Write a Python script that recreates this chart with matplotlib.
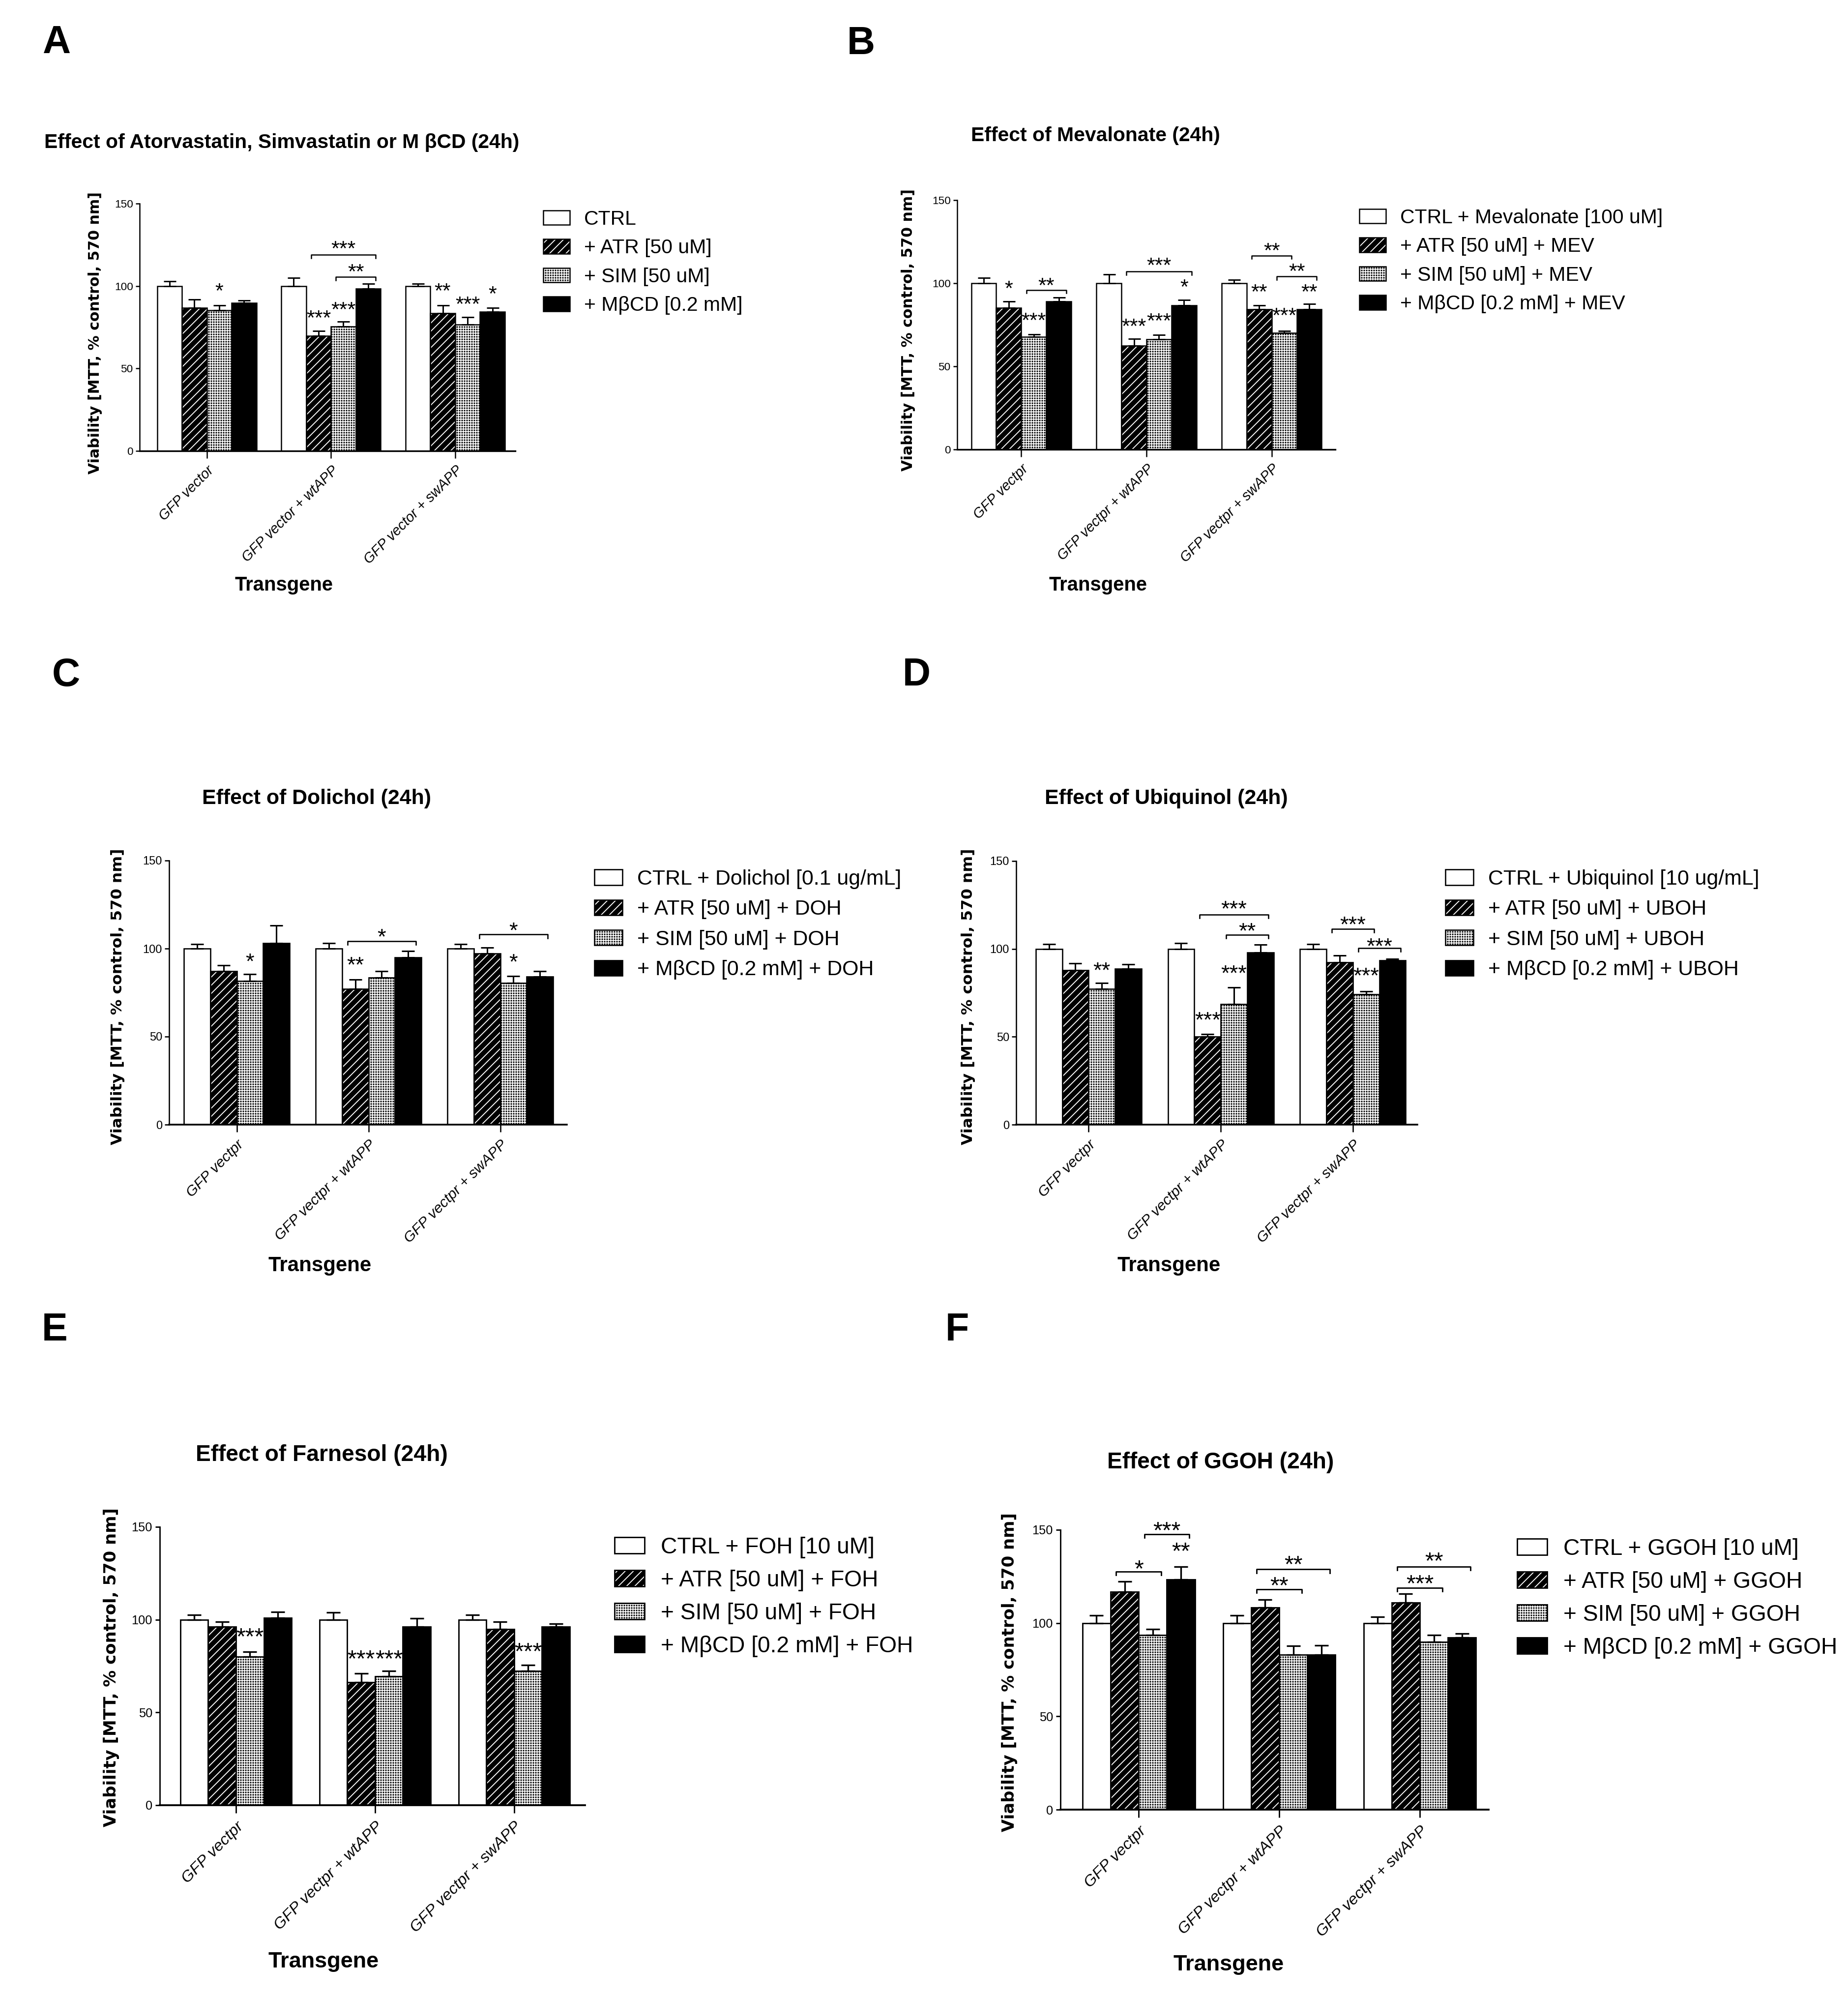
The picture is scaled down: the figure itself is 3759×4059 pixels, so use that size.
import numpy as np
import matplotlib
matplotlib.use('Agg')
import matplotlib.pyplot as plt

# Output size (pixels) and resolution
W_PX, H_PX = 3759, 4059
DPI = 300

plt.rcParams['font.family'] = ['Liberation Sans', 'DejaVu Sans']
plt.rcParams['hatch.linewidth'] = 0.45

# Shared category labels
GROUPS_A = ['GFP vector', 'GFP vector + wtAPP', 'GFP vector + swAPP']
GROUPS = ['GFP vectpr', 'GFP vectpr + wtAPP', 'GFP vectpr + swAPP']
Y_LABEL = 'Viability [MTT, % control, 570 nm]'
X_LABEL = 'Transgene'

# Rows: CTRL, ATR, SIM, MbCD ; columns: GFP vector, + wtAPP, + swAPP
# Stars: (group, bar, text, y) ; brackets: (group, bar1, bar2, y, text, text y)

# Panel A
A_TITLE = 'Effect of Atorvastatin, Simvastatin or M \u03b2CD (24h)'
A_LEGEND = ['CTRL', '+ ATR [50 uM]', '+ SIM [50 uM]', '+ M\u03b2CD [0.2 mM]']
A_MEAN = [[100, 100, 100], [86.7, 69.8, 83.6], [85.3, 75.3, 76.5], [89.9, 98.5, 84.5]]
A_ERR = [[3, 5, 1.5], [5, 3, 4.6], [3, 3, 4.7], [1.5, 3, 2.2]]
A_STARS = [(0, 2, '*', 100.3), (1, 1, '***', 84), (1, 2, '***', 89),
           (2, 1, '**', 100.3), (2, 2, '***', 92.3), (2, 3, '*', 98.6)]
A_BRACKETS = [(1, 1, 3, 119, '***', 126), (1, 2, 3, 105.5, '**', 112)]

# Panel B
B_TITLE = 'Effect of Mevalonate (24h)'
B_LEGEND = ['CTRL + Mevalonate [100 uM]', '+ ATR [50 uM] + MEV',
            '+ SIM [50 uM] + MEV', '+ M\u03b2CD [0.2 mM] + MEV']
B_MEAN = [[100, 100, 100], [85.1, 62.3, 84.3], [67.7, 66.3, 70], [89, 86.6, 84.3]]
B_ERR = [[3.2, 5.4, 2.2], [4, 4.4, 2.5], [1.4, 2.7, 1.4], [2.5, 3.4, 3.2]]
B_STARS = [(0, 1, '*', 100), (0, 2, '***', 81), (1, 1, '***', 77.5), (1, 2, '***', 80.6),
           (1, 3, '*', 101), (2, 1, '**', 98), (2, 2, '***', 84), (2, 3, '**', 98)]
B_BRACKETS = [(0, 2, 3, 96, '**', 102), (1, 1, 3, 107, '***', 114),
              (2, 1, 2, 116.7, '**', 123), (2, 2, 3, 104, '**', 110.5)]

# Panel C
C_TITLE = 'Effect of Dolichol (24h)'
C_LEGEND = ['CTRL + Dolichol [0.1 ug/mL]', '+ ATR [50 uM] + DOH',
            '+ SIM [50 uM] + DOH', '+ M\u03b2CD [0.2 mM] + DOH']
C_MEAN = [[100, 100, 100], [87.2, 77.2, 97.1], [81.6, 83.4, 80.4], [103.2, 95, 84]]
C_ERR = [[2.6, 3.2, 2.6], [3.2, 5.3, 3.5], [4, 3.8, 4], [10, 3.7, 3.2]]
C_STARS = [(0, 2, '*', 96), (1, 1, '**', 94), (2, 2, '*', 95.5)]
C_BRACKETS = [(1, 1, 3, 104.3, '*', 110), (2, 1, 3, 108, '*', 113.4)]

# Panel D
D_TITLE = 'Effect of Ubiquinol (24h)'
D_LEGEND = ['CTRL + Ubiquinol [10 ug/mL]', '+ ATR [50 uM] + UBOH',
            '+ SIM [50 uM] + UBOH', '+ M\u03b2CD [0.2 mM] + UBOH']
D_MEAN = [[100, 100, 100], [87.9, 50, 92.3], [77.2, 68.7, 74.3], [88.7, 97.9, 93.6]]
D_ERR = [[2.6, 3.2, 2.6], [4, 1.6, 4], [3.5, 9.3, 1.6], [2.4, 4.6, 0.7]]
D_STARS = [(0, 2, '**', 91), (1, 1, '***', 62.8), (1, 2, '***', 89.5), (2, 2, '***', 88)]
D_BRACKETS = [(1, 1, 3, 119.5, '***', 126), (1, 2, 3, 108, '**', 113.4),
              (2, 1, 2, 111.5, '***', 117), (2, 2, 3, 100.6, '***', 104.8)]

# Panel E
E_TITLE = 'Effect of Farnesol (24h)'
E_LEGEND = ['CTRL + FOH [10 uM]', '+ ATR [50 uM] + FOH',
            '+ SIM [50 uM] + FOH', '+ M\u03b2CD [0.2 mM] + FOH']
E_MEAN = [[100, 100, 100], [96.3, 66.3, 94.8], [80, 69.4, 72.4], [101.1, 96.3, 96.3]]
E_ERR = [[2.6, 4, 2.6], [2.5, 4.6, 4], [2.6, 3, 3], [3, 4.5, 1.6]]
E_STARS = [(0, 2, '***', 94.2), (1, 1, '***', 82.3), (1, 2, '***', 82.3), (2, 2, '***', 86.3)]
E_BRACKETS = []

# Panel F
F_TITLE = 'Effect of GGOH (24h)'
F_LEGEND = ['CTRL + GGOH [10 uM]', '+ ATR [50 uM] + GGOH',
            '+ SIM [50 uM] + GGOH', '+ M\u03b2CD [0.2 mM] + GGOH']
F_MEAN = [[100, 100, 100], [116.7, 108.3, 111.1], [93.5, 83, 89.9], [123.5, 83, 92.2]]
F_ERR = [[4, 4, 3.3], [5.7, 4.2, 4.5], [3.3, 4.8, 3.6], [6.8, 5.1, 2.2]]
F_STARS = [(0, 3, '**', 142)]
F_BRACKETS = [(0, 1, 2, 127.7, '*', 132.5), (0, 2, 3, 147.7, '***', 153),
              (1, 1, 2, 118.2, '**', 123.6), (1, 1, 3, 128.8, '**', 135),
              (2, 1, 2, 119, '***', 124.7), (2, 1, 3, 130.3, '**', 136.7)]

BAR_W = 0.2
# Fill per treatment: (face, hatch) -- hatches are drawn in white over black
FILLS = [('white', None), ('black', '/' * 6), ('black', '+' * 10), ('black', None)]


def fx(x):
    return x / W_PX


def fy(y):
    return 1 - y / H_PX


def draw_panel(fig, p):
    s = p['scale']
    x0, ytop, x1, ybot = p['box']
    ax = fig.add_axes([fx(x0), fy(ybot), (x1 - x0) / W_PX, (ybot - ytop) / H_PX])
    ax.patch.set_alpha(0)
    x = np.arange(3)
    lw = 0.6 * s
    handles = []
    for j, (face, hatch) in enumerate(FILLS):
        xs = x + (j - 1.5) * BAR_W
        if hatch:
            b = ax.bar(xs, p['mean'][j], BAR_W, color=face, edgecolor='white',
                       hatch=hatch, linewidth=0)
            o = ax.bar(xs, p['mean'][j], BAR_W, fill=False, edgecolor='black', linewidth=lw)
            handles.append((b[0], o[0]))
        else:
            b = ax.bar(xs, p['mean'][j], BAR_W, color=face, edgecolor='black', linewidth=lw)
            handles.append(b[0])
        err = np.array(p['err'][j])
        ax.errorbar(xs, p['mean'][j], yerr=[np.zeros(3), err], fmt='none', ecolor='black',
                    elinewidth=0.7 * s, capsize=3.0 * s, capthick=0.7 * s, zorder=3)

    fs_star = 10.3 * s
    for g, b, txt, yv in p['stars']:
        ax.annotate(txt, (g + (b - 1.5) * BAR_W, yv), xytext=(0, -0.57 * fs_star),
                    textcoords='offset points', ha='center', va='baseline',
                    fontsize=fs_star, annotation_clip=False)
    for g, b1, b2, yb, txt, yt in p['brackets']:
        xa = g + (b1 - 1.5) * BAR_W - 0.3 * BAR_W
        xb = g + (b2 - 1.5) * BAR_W + 0.3 * BAR_W
        ax.plot([xa, xa, xb, xb], [yb - 2, yb, yb, yb - 2], color='black', lw=lw,
                clip_on=False)
        ax.annotate(txt, ((xa + xb) / 2, yt), xytext=(0, -0.57 * fs_star),
                    textcoords='offset points', ha='center', va='baseline',
                    fontsize=fs_star, annotation_clip=False)

    # Axes (Prism-like)
    ax.set_xlim(p['xlim'])
    ax.set_ylim(0, 150)
    for sp in ['top', 'right']:
        ax.spines[sp].set_visible(False)
    ax.spines['left'].set_bounds(0, 150)
    ax.spines['left'].set_linewidth(0.6 * s)
    ax.spines['bottom'].set_linewidth(0.8 * s)
    ax.set_yticks([0, 50, 100, 150])
    ax.set_xticks(x)
    ax.set_xticklabels(p['groups'], rotation=45, ha='right', rotation_mode='anchor',
                       style='italic', fontsize=6.9 * s)
    ax.tick_params(axis='y', length=2 * s, width=0.6 * s, pad=1.2 * s, labelsize=5.4 * s)
    ax.tick_params(axis='x', length=3.5 * s, width=0.6 * s, pad=2.5 * s)

    # Legend
    fs_leg = 9.8 * s
    leg_x, leg_y = p['legend']
    fs_px = fs_leg * DPI / 72
    ax.legend(handles, p['labels'], loc='upper left',
              bbox_to_anchor=(fx(leg_x), fy(leg_y - 0.42 * fs_px)),
              bbox_transform=fig.transFigure, frameon=False, fontsize=fs_leg,
              borderpad=0, borderaxespad=0, handlelength=1.32, handleheight=0.74,
              handletextpad=0.72, labelspacing=0.5)

    # Texts
    fig.text(fx(p['letter'][0]), fy(p['letter'][1]), p['name'], fontsize=19,
             fontweight='bold', ha='center', va='center')
    fig.text(fx(p['title'][0]), fy(p['title'][1]), p['title_text'], fontsize=9.8 * s,
             fontweight='bold', ha='left', va='center')
    fig.text(fx(p['ylab'][0]), fy(p['ylab'][1]), Y_LABEL, fontsize=7.2 * s,
             fontweight='bold', family='DejaVu Sans', rotation=90, ha='center', va='center')
    fig.text(fx(p['xlab'][0]), fy(p['xlab'][1]), X_LABEL, fontsize=9.6 * s,
             fontweight='bold', ha='center', va='center')
    return ax


def main():
    fig = plt.figure(figsize=(W_PX / DPI, H_PX / DPI), dpi=DPI)
    fig.patch.set_facecolor('white')

    panels = [
        dict(name='A', title_text=A_TITLE, labels=A_LEGEND, mean=A_MEAN, err=A_ERR,
             stars=A_STARS, brackets=A_BRACKETS, groups=GROUPS_A, scale=1.0,
             box=(284, 414, 1048, 917), xlim=(-0.541, 2.484), letter=(115, 88),
             title=(90, 290), ylab=(194, 677), xlab=(578, 1190), legend=(1105, 444)),
        dict(name='B', title_text=B_TITLE, labels=B_LEGEND, mean=B_MEAN, err=B_ERR,
             stars=B_STARS, brackets=B_BRACKETS, groups=GROUPS, scale=1.0,
             box=(1947, 407, 2716, 914), xlim=(-0.512, 2.508), letter=(1751, 90),
             title=(1975, 276), ylab=(1848, 671), xlab=(2233, 1190), legend=(2765, 441)),
        dict(name='C', title_text=C_TITLE, labels=C_LEGEND, mean=C_MEAN, err=C_ERR,
             stars=C_STARS, brackets=C_BRACKETS, groups=GROUPS, scale=1.05,
             box=(344, 1750, 1153, 2287), xlim=(-0.513, 2.505), letter=(134, 1374),
             title=(411, 1624), ylab=(240, 2027), xlab=(651, 2574), legend=(1209, 1786)),
        dict(name='D', title_text=D_TITLE, labels=D_LEGEND, mean=D_MEAN, err=D_ERR,
             stars=D_STARS, brackets=D_BRACKETS, groups=GROUPS, scale=1.05,
             box=(2067, 1751, 2883, 2287), xlim=(-0.548, 2.488), letter=(1864, 1374),
             title=(2125, 1624), ylab=(1970, 2027), xlab=(2378, 2574), legend=(2940, 1786)),
        dict(name='E', title_text=E_TITLE, labels=E_LEGEND, mean=E_MEAN, err=E_ERR,
             stars=E_STARS, brackets=E_BRACKETS, groups=GROUPS, scale=1.13,
             box=(325, 3105, 1190, 3671), xlim=(-0.548, 2.51), letter=(111, 2706),
             title=(398, 2959), ylab=(227, 3391), xlab=(658, 3990), legend=(1250, 3144)),
        dict(name='F', title_text=F_TITLE, labels=F_LEGEND, mean=F_MEAN, err=F_ERR,
             stars=F_STARS, brackets=F_BRACKETS, groups=GROUPS, scale=1.13,
             box=(2157, 3111, 3028, 3680), xlim=(-0.557, 2.49), letter=(1947, 2706),
             title=(2252, 2974), ylab=(2053, 3401), xlab=(2499, 3996), legend=(3086, 3147)),
    ]
    for p in panels:
        draw_panel(fig, p)

    fig.savefig('out.png', dpi=DPI, facecolor='white')


if __name__ == '__main__':
    main()
